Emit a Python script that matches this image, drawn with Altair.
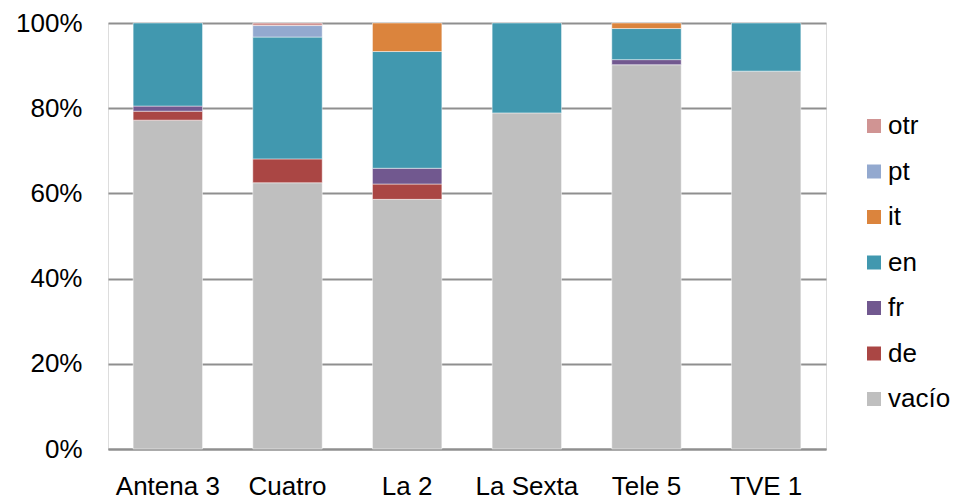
import altair as alt
import pandas as pd

channels = ["Antena 3", "Cuatro", "La 2", "La Sexta", "Tele 5", "TVE 1"]
languages = ["vacío", "de", "fr", "en", "it", "pt", "otr"]
legend_order = ["otr", "pt", "it", "en", "fr", "de", "vacío"]
colors = {"otr": "#d09493", "pt": "#93a9cf", "it": "#db843d", "en": "#4198af",
          "fr": "#71588f", "de": "#aa4644", "vacío": "#bfbfbf"}

vacio = [77.2, 62.5, 58.6, 78.9, 90.2, 88.7]
de = [2.1, 5.6, 3.6, 0.0, 0.0, 0.0]
fr = [1.2, 0.0, 3.7, 0.0, 1.2, 0.0]
en = [19.5, 28.6, 27.4, 21.1, 7.3, 11.3]
it = [0.0, 0.0, 6.7, 0.0, 1.3, 0.0]
pt = [0.0, 2.7, 0.0, 0.0, 0.0, 0.0]
otr = [0.0, 0.6, 0.0, 0.0, 0.0, 0.0]

series = {"vacío": vacio, "de": de, "fr": fr, "en": en, "it": it, "pt": pt, "otr": otr}

rows = []
for li, lang in enumerate(languages):
    for ci, ch in enumerate(channels):
        v = series[lang][ci]
        if v > 0:
            rows.append({"canal": ch, "idioma": lang, "valor": v, "orden": li})
df = pd.DataFrame(rows)

grid_color = "#8f8f8f"

chart = alt.Chart(df).mark_bar(
    stroke="#ffffff", strokeWidth=0.8, strokeOpacity=0.6
).encode(
    x=alt.X("canal:N", sort=channels, title=None,
            scale=alt.Scale(paddingInner=0.42, paddingOuter=0.21),
            axis=alt.Axis(labelAngle=0, labelFontSize=26, labelFont="Liberation Sans",
                          labelColor="#000000", ticks=False, labelPadding=24,
                          domainColor=grid_color, domainWidth=2)),
    y=alt.Y("valor:Q", stack="normalize", title=None,
            scale=alt.Scale(domain=[0, 1]),
            axis=alt.Axis(values=[0, 0.2, 0.4, 0.6, 0.8, 1.0], format=".0%",
                          labelFontSize=26, labelFont="Liberation Sans",
                          labelColor="#000000", ticks=False, domain=False,
                          labelPadding=26, gridColor=grid_color, gridWidth=2)),
    color=alt.Color("idioma:N",
                    scale=alt.Scale(domain=legend_order,
                                    range=[colors[k] for k in legend_order]),
                    legend=alt.Legend(title=None, orient="none", legendX=753, legendY=90,
                                      symbolType="square", symbolSize=196,
                                      symbolStrokeWidth=0, labelFontSize=26,
                                      labelFont="Liberation Sans", labelColor="#000000",
                                      labelOffset=1, rowPadding=19.5, padding=0)),
    order=alt.Order("orden:Q", sort="ascending"),
).properties(
    width=718, height=426,
    autosize=alt.AutoSizeParams(type="none"),
    padding={"left": 100, "top": 15, "right": 131, "bottom": 52},
).configure_view(stroke=None).configure(background="#ffffff")

chart.save("out.html", embed_options={"renderer": "svg", "actions": False})
